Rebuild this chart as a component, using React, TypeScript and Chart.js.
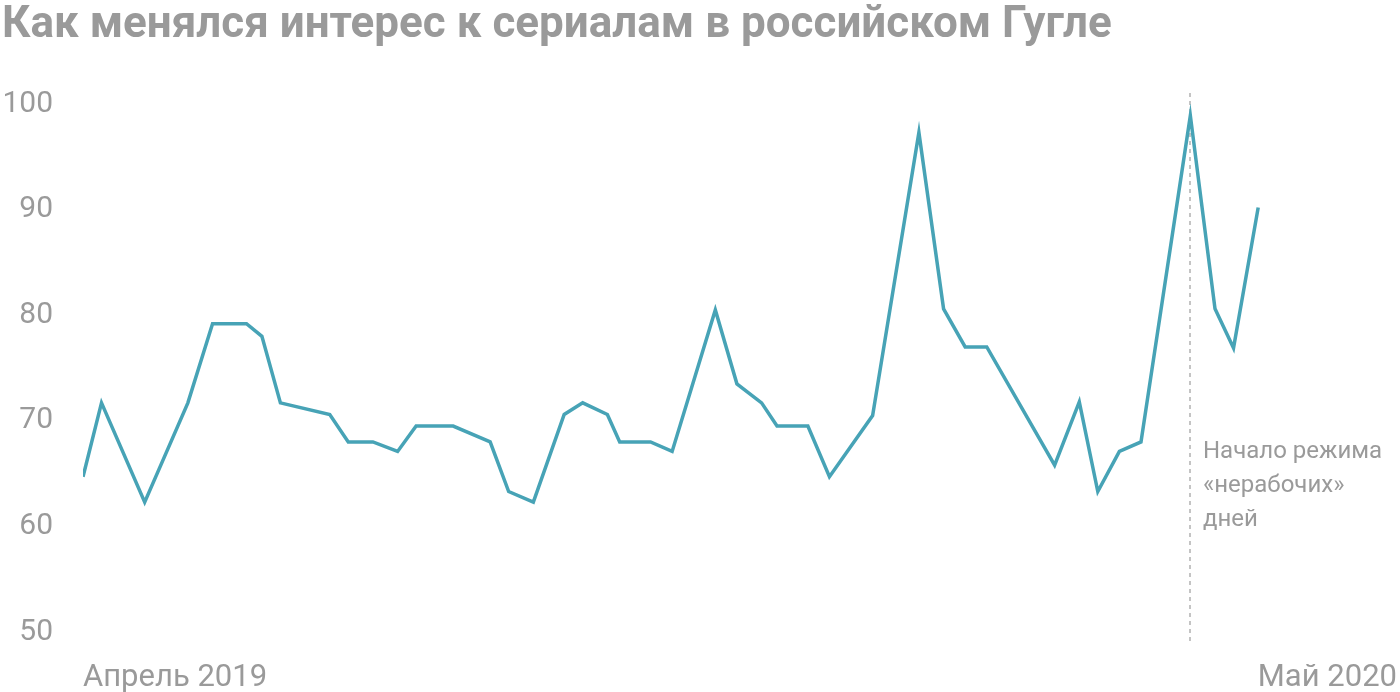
import { useEffect, useRef } from "react";
import { Chart, registerables } from "chart.js";

Chart.register(...registerables);

// days since 1 April 2019
const days = [
  0, 6, 20, 34, 42, 53, 58, 64, 80, 86,
  94, 102, 108, 120, 132, 138, 146, 156, 162, 170,
  174, 184, 191, 205, 212, 220, 225, 235, 242, 256,
  271, 279, 286, 293, 315, 323, 329, 336, 343, 359,
  367, 373, 381,
];

const interest = [
  64.7, 71.7, 62.3, 71.7, 79.2, 79.2, 78.0, 71.7, 70.6, 68.0,
  68.0, 67.1, 69.5, 69.5, 68.0, 63.3, 62.3, 70.6, 71.7, 70.6,
  68.0, 68.0, 67.1, 80.5, 73.5, 71.7, 69.5, 69.5, 64.7, 70.5,
  97.3, 80.6, 77.0, 77.0, 65.8, 71.8, 63.3, 67.1, 68.0, 98.9,
  80.6, 76.9, 90.2,
];

const xMin = 0;
const xMax = 426;
const xLabels = ["Апрель 2019", "Май 2020"];
const yTicks = [50, 60, 70, 80, 90, 100];

const markerDay = 359;
const markerNote = ["Начало режима", "«нерабочих»", "дней"];

const FONT = "Roboto, 'Noto Sans', sans-serif";
const GREY = "#9a9a9a";

const markerPlugin = {
  id: "marker",
  beforeDatasetsDraw(chart: any) {
    const { ctx, scales, chartArea } = chart;
    const x = Math.round(scales.x.getPixelForValue(markerDay));
    ctx.save();
    ctx.strokeStyle = "#c4c4c4";
    ctx.lineWidth = 2;
    ctx.setLineDash([4, 4]);
    ctx.beginPath();
    ctx.moveTo(x, chartArea.top - 11);
    ctx.lineTo(x, chartArea.bottom + 10);
    ctx.stroke();
    ctx.setLineDash([]);
    ctx.fillStyle = GREY;
    ctx.font = `24px ${FONT}`;
    ctx.textBaseline = "middle";
    ctx.textAlign = "left";
    markerNote.forEach((line, i) => {
      ctx.fillText(line, x + 13, chartArea.top + 348 + i * 34);
    });
    ctx.restore();
  },
};

export default function App() {
  const canvasRef = useRef<HTMLCanvasElement>(null);

  useEffect(() => {
    if (!canvasRef.current) return;
    const chart = new Chart(canvasRef.current, {
      type: "line",
      data: {
        datasets: [
          {
            data: days.map((d, i) => ({ x: d, y: interest[i] })),
            borderColor: "#47a3b6",
            borderWidth: 3.5,
            pointRadius: 0,
            tension: 0,
            fill: false,
          },
        ],
      },
      options: {
        animation: false,
        responsive: false,
        maintainAspectRatio: false,
        layout: { padding: { top: 104, left: 0, right: 3, bottom: 0 } },
        plugins: {
          legend: { display: false },
          tooltip: { enabled: false },
        },
        scales: {
          x: {
            type: "linear",
            min: xMin,
            max: xMax,
            grid: { display: false, drawTicks: false },
            border: { display: false },
            afterBuildTicks: (s: any) => {
              s.ticks = [{ value: xMin }, { value: xMax }];
            },
            afterFit: (s: any) => {
              s.height = 60;
              s.paddingLeft = 0;
              s.paddingRight = 0;
            },
            ticks: {
              autoSkip: false,
              maxRotation: 0,
              align: "inner",
              padding: 28,
              color: GREY,
              font: { size: 31, family: FONT },
              callback: (v: any) => (v === xMin ? xLabels[0] : xLabels[1]),
            },
          },
          y: {
            min: 50,
            max: 100,
            grid: { display: false, drawTicks: false },
            border: { display: false },
            afterBuildTicks: (s: any) => {
              s.ticks = yTicks.map((value) => ({ value }));
            },
            afterFit: (s: any) => {
              s.width = 83;
            },
            ticks: {
              padding: 30,
              color: GREY,
              font: { size: 30, family: FONT },
            },
          },
        },
      },
      plugins: [markerPlugin],
    });
    return () => chart.destroy();
  }, []);

  return (
    <div
      style={{
        position: "absolute",
        left: 0,
        top: 0,
        width: 1400,
        height: 692,
        background: "#fff",
        fontFamily: FONT,
      }}
    >
      <canvas
        ref={canvasRef}
        width={1400}
        height={692}
        style={{ position: "absolute", left: 0, top: 0, width: 1400, height: 692 }}
      />
      <div
        style={{
          position: "absolute",
          left: 2,
          top: -3,
          fontSize: 44,
          fontWeight: 700,
          lineHeight: "50px",
          color: GREY,
          whiteSpace: "nowrap",
        }}
      >
        Как менялся интерес к сериалам в российском Гугле
      </div>
    </div>
  );
}
